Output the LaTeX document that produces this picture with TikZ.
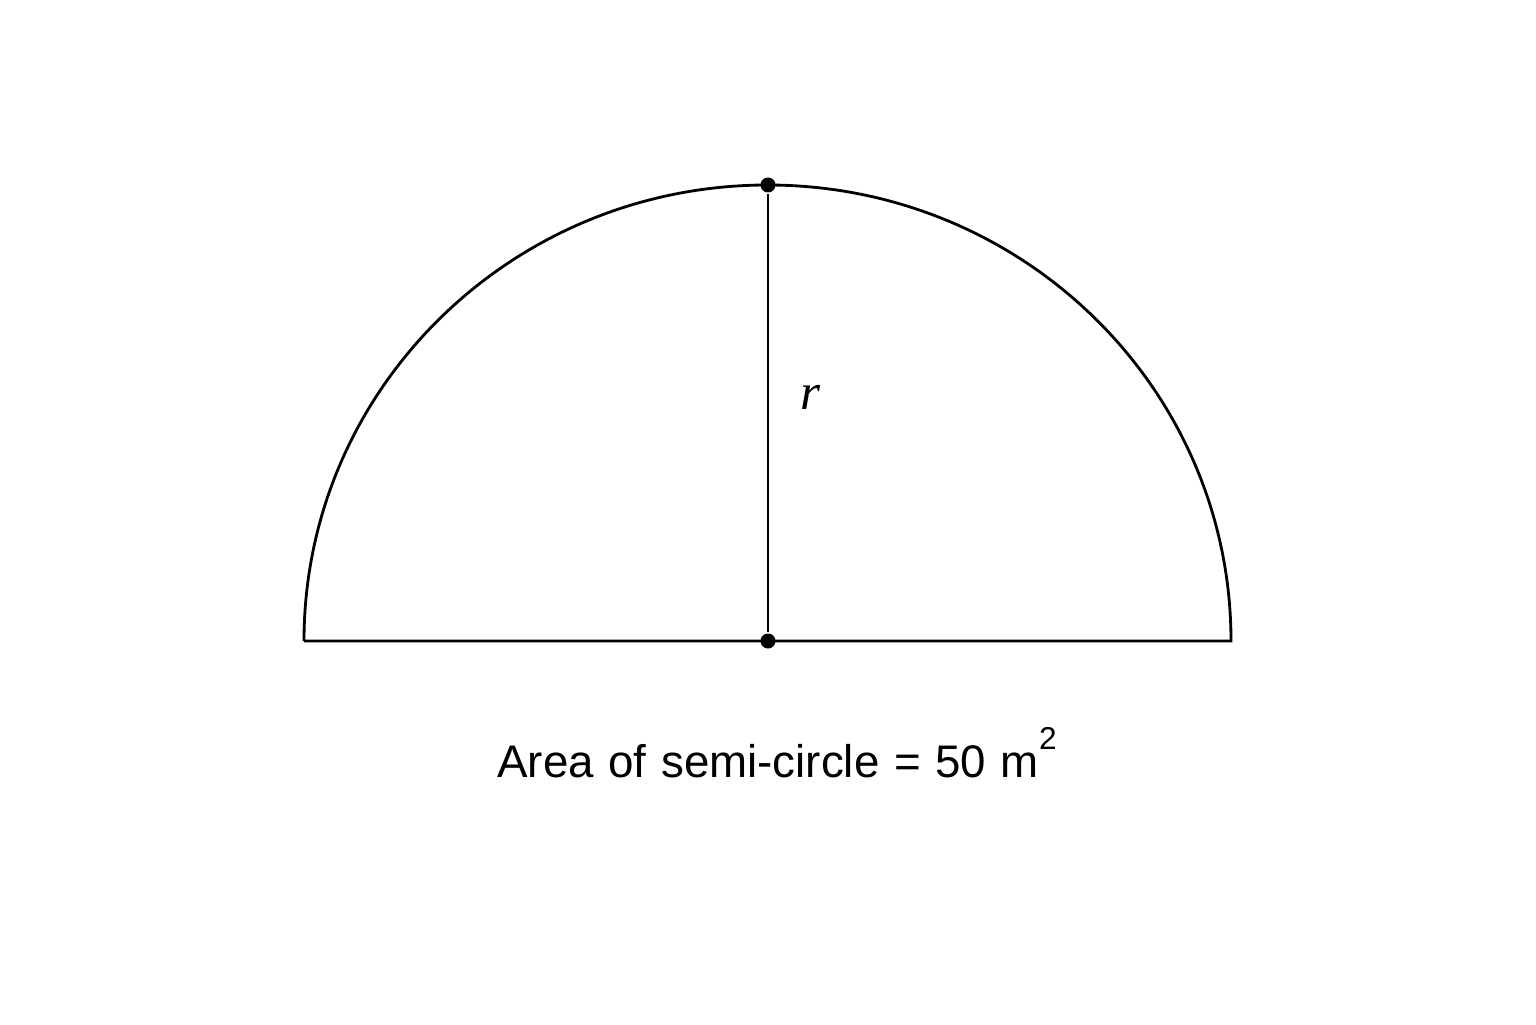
\documentclass[tikz,border=0pt]{standalone}
\usepackage{fontspec}
\setmainfont{Liberation Sans}
\newfontfamily\rfont{Liberation Serif}
\usetikzlibrary{positioning}

\begin{document}
\begin{tikzpicture}[line width=0.8pt,
	dot/.style={circle, fill=black, inner sep=0pt, minimum size=0.15cm}]
	
	\useasboundingbox (0,0) rectangle (15.36,10.24);
	
	%Punkte
	\node (bottom) [dot] at (7.68,3.83) {};
	\node (top) [dot] at (7.68,8.39) {};
	\coordinate (left) at (3.04,3.83);
	\coordinate (right) at (12.31,3.83);
	
	%Halbkreis
	\draw (left) -- (right) arc[start angle=0, end angle=180, x radius=4.635cm, y radius=4.56cm];
	\draw (top) -- (bottom);
	
	%Beschriftung
	\node (r) at (8.10,6.27) {\fontsize{14.6}{16}\selectfont\rfont\itshape r};
	\node (area) [anchor=base] at (7.77,2.47) {\fontsize{13}{15}\selectfont\spaceskip=0.32em Area of semi-circle = 50 m\raisebox{0.6em}{\fontsize{9}{9}\selectfont 2}};
	
\end{tikzpicture}
\end{document}
